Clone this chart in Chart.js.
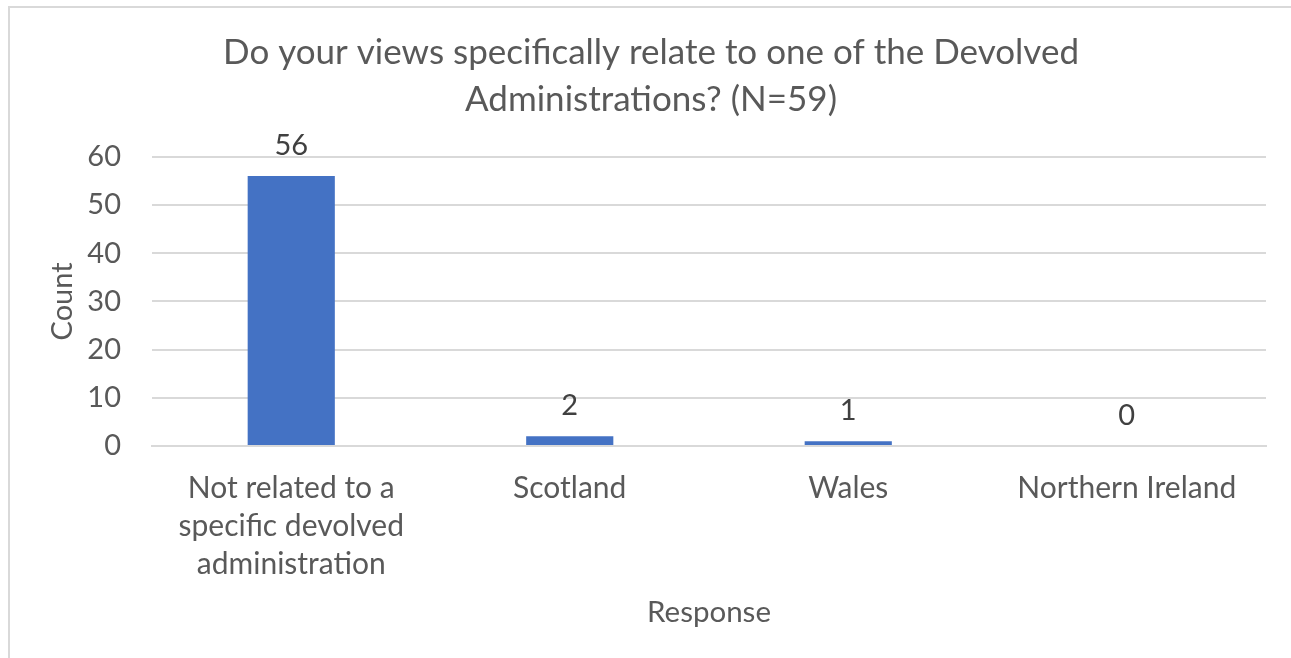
<!DOCTYPE html>
<html>
<head>
<meta charset="utf-8">
<script src="https://cdn.jsdelivr.net/npm/chart.js@4"></script>
<style>
  html, body { margin: 0; padding: 0; background: #fff; }
  #wrap { width: 1291px; height: 658px; position: relative; }
</style>
</head>
<body>
<div id="wrap"><canvas id="myChart" width="1291" height="658"></canvas></div>
<script>
// chart data
const categories = [
  ["Not related to a", "specific devolved", "administration"],
  "Scotland",
  "Wales",
  "Northern Ireland"
];
const counts = [56, 2, 1, 0];
const yTicks = [0, 10, 20, 30, 40, 50, 60];

const titleLines = ["Do your views specifically relate to one of the Devolved", "Administrations? (N=59)"];

const fontFamily = "Lato, 'Open Sans', sans-serif";
const textGrey = '#595959';

// white background and the thin frame around the chart
const framePlugin = {
  id: 'frame',
  beforeDraw(chart) {
    const ctx = chart.ctx;
    ctx.save();
    ctx.fillStyle = '#fff';
    ctx.fillRect(0, 0, chart.width, chart.height);
    ctx.strokeStyle = '#d9d9d9';
    ctx.lineWidth = 2;
    ctx.beginPath();
    ctx.moveTo(9, chart.height);
    ctx.lineTo(9, 7);
    ctx.lineTo(chart.width, 7);
    ctx.stroke();
    ctx.restore();
  }
};

// value labels above each bar
const barLabels = {
  id: 'barLabels',
  afterDatasetsDraw(chart) {
    const ctx = chart.ctx;
    const meta = chart.getDatasetMeta(0);
    ctx.save();
    ctx.font = "29px " + fontFamily;
    ctx.fillStyle = '#404040';
    ctx.textAlign = 'center';
    ctx.textBaseline = 'bottom';
    meta.data.forEach((bar, i) => {
      ctx.fillText(String(counts[i]), bar.x, bar.y - 16);
    });
    ctx.restore();
  }
};

const myChart = document.getElementById('myChart');

new Chart(myChart, {
  type: 'bar',
  data: {
    labels: categories,
    datasets: [{
      label: 'Count',
      data: counts,
      backgroundColor: '#4472C4',
      borderWidth: 0,
      categoryPercentage: 1,
      barPercentage: 0.313
    }]
  },
  options: {
    responsive: false,
    animation: false,
    layout: { padding: { left: 36, right: 25, top: 0, bottom: 0 } },
    plugins: {
      legend: { display: false },
      tooltip: { enabled: false },
      title: {
        display: true,
        text: titleLines,
        color: textGrey,
        font: { family: fontFamily, size: 35, weight: 'normal', lineHeight: 1.34 },
        padding: { top: 29, bottom: 34 }
      }
    },
    scales: {
      x: {
        grid: { display: false, drawTicks: false },
        border: { display: true, color: '#d9d9d9', width: 2 },
        ticks: {
          color: textGrey,
          font: { family: fontFamily, size: 30, lineHeight: 1.27 },
          padding: 23,
          maxRotation: 0,
          autoSkip: false
        },
        title: {
          display: true,
          text: 'Response',
          color: textGrey,
          font: { family: fontFamily, size: 29.5, lineHeight: 1.2 },
          padding: { top: 28, bottom: 28 }
        },
        afterFit(scale) { scale.height = 212; }
      },
      y: {
        min: 0,
        max: 60,
        afterBuildTicks(scale) { scale.ticks = yTicks.map(v => ({ value: v })); },
        grid: { color: '#d9d9d9', lineWidth: 2, drawTicks: false },
        border: { display: false },
        ticks: {
          color: textGrey,
          font: { family: fontFamily, size: 29 },
          padding: 31
        },
        title: {
          display: true,
          text: 'Count',
          color: textGrey,
          font: { family: fontFamily, size: 29, lineHeight: 1.2 },
          padding: { top: 9, bottom: 9 }
        },
        afterFit(scale) { scale.width = 116; }
      }
    }
  },
  plugins: [framePlugin, barLabels]
});
</script>
</body>
</html>
